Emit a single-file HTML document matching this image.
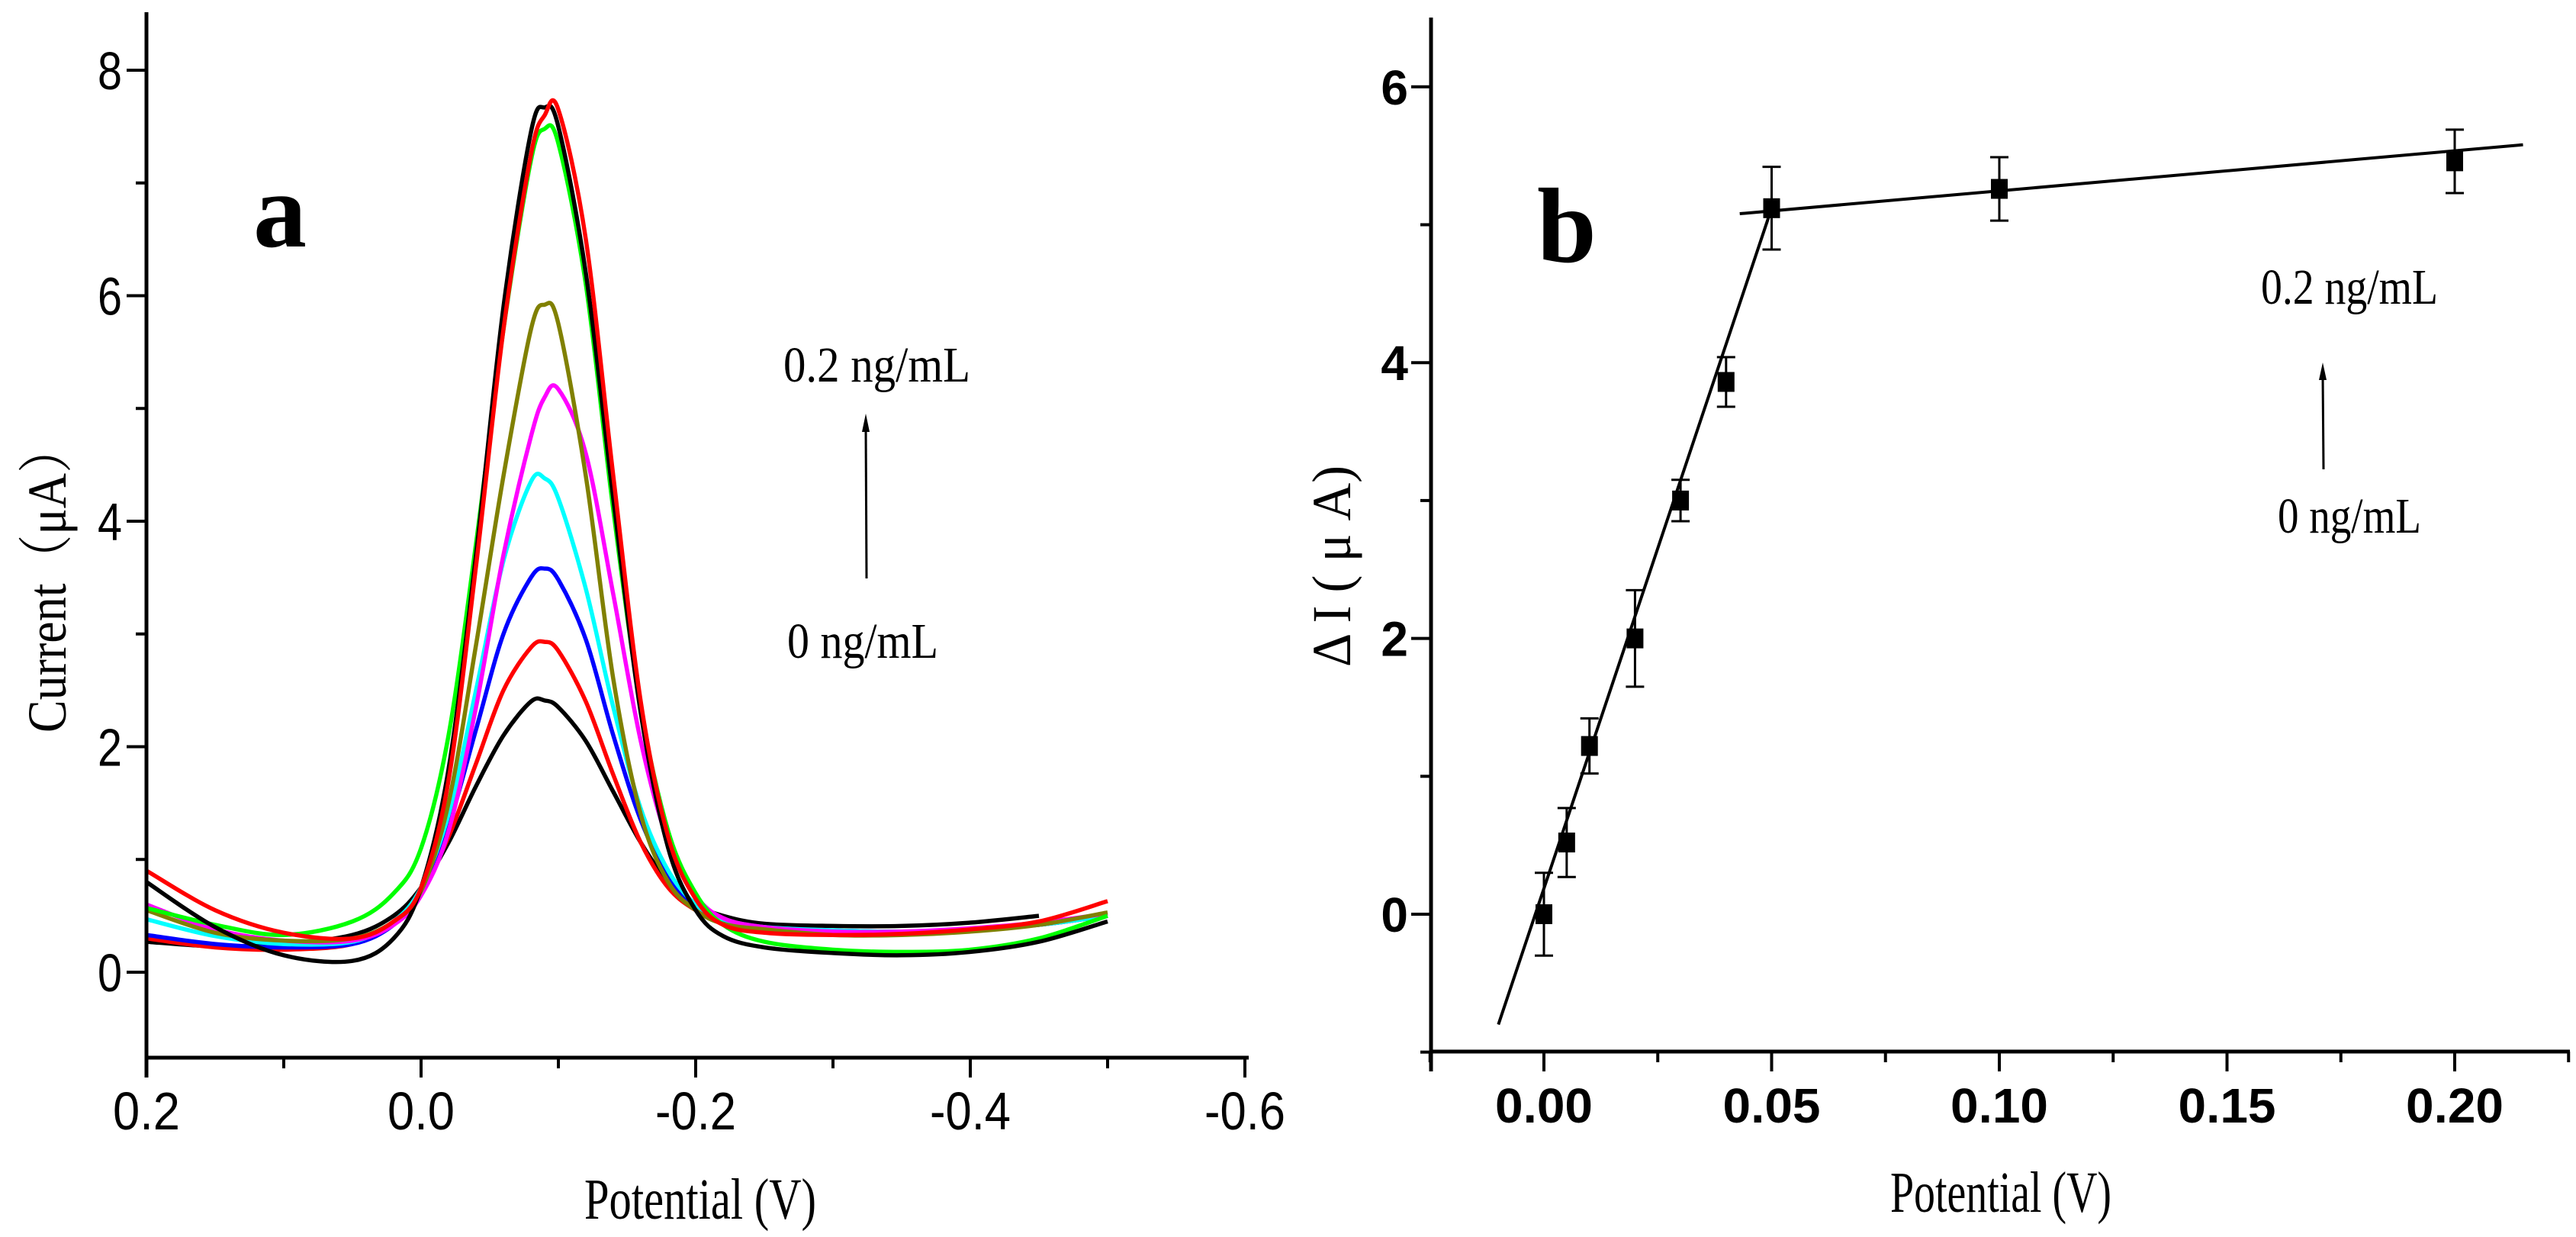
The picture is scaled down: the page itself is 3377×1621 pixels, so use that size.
<!DOCTYPE html>
<html><head><meta charset="utf-8"><style>
html,body{margin:0;padding:0;background:#fff;}
svg{display:block;}
</style></head><body>
<svg id="fig" width="3377" height="1621" viewBox="0 0 3377 1621" xmlns="http://www.w3.org/2000/svg">
<g id="panelA"></g>
<g id="panelB"></g>
</svg>
<script>
// ---------- Panel a data ----------
const potA = [0.2,0.15,0.1,0.05,0.02,0,-0.02,-0.04,-0.06,-0.08,-0.09,-0.1,-0.12,-0.14,-0.16,-0.18,-0.2,-0.22,-0.25,-0.3,-0.35,-0.4,-0.45,-0.5];
const curveColors = ['#000000','#ff0000','#0000ff','#00ffff','#ff00ff','#808000','#00ff00','#000000','#ff0000'];
const curve0 = [0.27,0.23,0.25,0.33,0.5,0.75,1.15,1.65,2.1,2.4,2.41,2.35,2.05,1.6,1.15,0.8,0.6,0.5,0.43,0.41,0.41,0.44,0.5,null];
const curve1 = [0.3,0.22,0.2,0.25,0.45,0.72,1.2,1.85,2.5,2.88,2.93,2.85,2.4,1.75,1.15,0.75,0.55,0.45,0.38,0.36,0.36,0.38,0.42,0.5];
const curve2 = [0.33,0.25,0.22,0.25,0.42,0.72,1.3,2.15,3.0,3.5,3.58,3.48,2.95,2.1,1.35,0.85,0.58,0.46,0.4,0.37,0.36,0.38,0.42,0.5];
const curve3 = [0.47,0.32,0.25,0.27,0.45,0.75,1.4,2.5,3.65,4.35,4.38,4.2,3.4,2.35,1.45,0.9,0.6,0.47,0.4,0.37,0.36,0.38,0.42,0.5];
const curve4 = [0.6,0.38,0.28,0.28,0.42,0.68,1.25,2.35,3.7,4.75,5.1,5.17,4.6,3.35,2.05,1.15,0.68,0.48,0.4,0.36,0.36,0.39,0.44,0.52];
const curve5 = [0.55,0.35,0.28,0.3,0.45,0.72,1.5,2.9,4.4,5.7,5.92,5.75,4.4,2.6,1.4,0.8,0.55,0.43,0.38,0.33,0.33,0.36,0.42,0.53];
const curve6 = [0.57,0.42,0.33,0.45,0.7,1.1,2.1,3.8,5.7,7.2,7.48,7.35,6.1,4.1,2.35,1.25,0.7,0.42,0.27,0.2,0.18,0.2,0.3,0.5];
const curve7 = [0.8,0.4,0.15,0.1,0.3,0.75,1.8,3.7,5.9,7.45,7.67,7.5,6.2,4.2,2.3,1.1,0.55,0.32,0.22,0.17,0.15,0.18,0.27,0.45];
const curve8 = [0.9,0.55,0.35,0.3,0.45,0.75,1.7,3.6,5.7,7.25,7.6,7.65,6.5,4.4,2.4,1.2,0.65,0.42,0.35,0.33,0.34,0.38,0.45,0.63];
const curvesA = [curve0,curve1,curve2,curve3,curve4,curve5,curve6,curve7,curve8];
const xTicksA = [0.2,0.0,-0.2,-0.4,-0.6];
const xTickLabelsA = ['0.2','0.0','-0.2','-0.4','-0.6'];
const yTicksA = [0,2,4,6,8];

// ---------- Panel b data ----------
const concB = [0,0.005,0.01,0.02,0.03,0.04,0.05,0.1,0.2];
const deltaI = [0,0.52,1.22,2.0,3.0,3.86,5.12,5.26,5.46];
const errB = [0.3,0.25,0.2,0.35,0.15,0.18,0.3,0.23,0.23];
const fit1X = [-0.01,0.05];
const fit1Y = [-0.8,5.12];
const fit2X = [0.043,0.215];
const fit2Y = [5.08,5.58];
const xTicksB = [0,0.05,0.1,0.15,0.2];
const xTickLabelsB = ['0.00','0.05','0.10','0.15','0.20'];
const yTicksB = [0,2,4,6];

const NS='http://www.w3.org/2000/svg';
function mk(parent,tag,attrs,text){const e=document.createElementNS(NS,tag);for(const k in attrs)e.setAttribute(k,attrs[k]);if(text!==undefined)e.textContent=text;parent.appendChild(e);return e;}

const xA = v => 552 + (0 - v) * 1800;
const yA = v => 1274 - v * 147.75;
const xB = v => 2024 + v * 5970;
const yB = v => 1198 - v * 180.7;

const gA=document.getElementById('panelA');
const sans='"Liberation Sans", Arial, sans-serif';
const serif='"Liberation Serif", "Times New Roman", serif';
function smoothPath(pts){
  let d='M'+pts[0][0].toFixed(1)+','+pts[0][1].toFixed(1);
  for(let i=0;i<pts.length-1;i++){
    const p0=pts[i-1]||pts[i],p1=pts[i],p2=pts[i+1],p3=pts[i+2]||p2;
    const c1=[p1[0]+(p2[0]-p0[0])/6,p1[1]+(p2[1]-p0[1])/6];
    const c2=[p2[0]-(p3[0]-p1[0])/6,p2[1]-(p3[1]-p1[1])/6];
    d+=' C'+c1[0].toFixed(1)+','+c1[1].toFixed(1)+' '+c2[0].toFixed(1)+','+c2[1].toFixed(1)+' '+p2[0].toFixed(1)+','+p2[1].toFixed(1);
  }
  return d;
}
curvesA.forEach((c,i)=>{
  const pts=[];c.forEach((v,j)=>{if(v!==null)pts.push([xA(potA[j]),yA(v)]);});
  const p=mk(gA,'path',{d:smoothPath(pts),fill:'none',stroke:curveColors[i],'stroke-width':5.5,'stroke-linejoin':'round'});
  
  
});
const axA=mk(gA,'g',{});


mk(axA,'line',{x1:192,y1:16,x2:192,y2:1412,stroke:'#000','stroke-width':5});
mk(axA,'line',{x1:190,y1:1386,x2:1637,y2:1386,stroke:'#000','stroke-width':5});
for(let v=-0.6;v<=0.2001;v+=0.1){const x=xA(v);const major=Math.abs(Math.round(v*10))%2===0;mk(axA,'line',{x1:x,y1:1386,x2:x,y2:1386+(major?26:14),stroke:'#000','stroke-width':4});}
for(let v=0;v<=8;v++){const y=yA(v);mk(axA,'line',{x1:192,y1:y,x2:192-(v%2===0?26:14),y2:y,stroke:'#000','stroke-width':4});}
xTicksA.forEach((v,i)=>{const lab=xTickLabelsA[i];const t=mk(axA,'text',{x:xA(v),y:1480,'font-family':sans,'font-size':70,'text-anchor':'middle',textLength:lab.length>3?106:88,lengthAdjust:'spacingAndGlyphs'},lab);
  });
yTicksA.forEach(v=>{const t=mk(axA,'text',{x:160,y:yA(v)+25,'font-family':sans,'font-size':70,'text-anchor':'end',textLength:32,lengthAdjust:'spacingAndGlyphs'},String(v));
  });
let t;
t=mk(gA,'text',{x:918,y:1597,'font-family':serif,'font-size':76,'text-anchor':'middle',textLength:304,lengthAdjust:'spacingAndGlyphs'},'Potential (V)');
 
t=mk(gA,'text',{x:0,y:0,'font-family':'"Liberation Serif","Noto Serif CJK SC",serif','font-size':72,'text-anchor':'middle',textLength:404,lengthAdjust:'spacingAndGlyphs',transform:'translate(86,758) rotate(-90)'},'Current（μA）');
 
t=mk(gA,'text',{x:332,y:323,'font-family':serif,'font-size':140,'font-weight':'bold'},'a');
 
t=mk(gA,'text',{x:1027,y:500,'font-family':serif,'font-size':66,textLength:245,lengthAdjust:'spacingAndGlyphs'},'0.2 ng/mL');
 
t=mk(gA,'text',{x:1032,y:862,'font-family':serif,'font-size':66,textLength:198,lengthAdjust:'spacingAndGlyphs'},'0 ng/mL');
 
const arA=mk(gA,'g',{});
 
mk(arA,'line',{x1:1136,y1:758,x2:1135,y2:560,stroke:'#000','stroke-width':3});
mk(arA,'polygon',{points:'1135,542 1130,566 1140,566',fill:'#000'});

const gB=document.getElementById('panelB');
const axB=mk(gB,'g',{});
 
mk(axB,'line',{x1:1876,y1:23,x2:1876,y2:1404,stroke:'#000','stroke-width':5});
mk(axB,'line',{x1:1874,y1:1378,x2:3369,y2:1378,stroke:'#000','stroke-width':5});
for(let k=-1;k<=9;k++){const v=k*0.025;const x=xB(v);const major=k%2===0;mk(axB,'line',{x1:x,y1:1378,x2:x,y2:1378+(major?26:14),stroke:'#000','stroke-width':4});}
for(let v=-1;v<=6;v++){const y=yB(v);mk(axB,'line',{x1:1876,y1:y,x2:1876-(v%2===0?26:14),y2:y,stroke:'#000','stroke-width':4});}
xTicksB.forEach((v,i)=>{const tt=mk(axB,'text',{x:xB(v),y:1471,'font-family':sans,'font-size':64,'font-weight':'bold','text-anchor':'middle',textLength:128,lengthAdjust:'spacingAndGlyphs'},xTickLabelsB[i]);
  });
yTicksB.forEach(v=>{const tt=mk(axB,'text',{x:1846,y:yB(v)+23,'font-family':sans,'font-size':64,'font-weight':'bold','text-anchor':'end'},String(v));
  });
let fl=mk(gB,'line',{x1:xB(fit1X[0]),y1:yB(fit1Y[0]),x2:xB(fit1X[1]),y2:yB(fit1Y[1]),stroke:'#000','stroke-width':4});
 
fl=mk(gB,'line',{x1:xB(fit2X[0]),y1:yB(fit2Y[0]),x2:xB(fit2X[1]),y2:yB(fit2Y[1]),stroke:'#000','stroke-width':4});
 
concB.forEach((c,i)=>{
  const x=xB(c),y=yB(deltaI[i]),yt=yB(deltaI[i]+errB[i]),yb=yB(deltaI[i]-errB[i]);
  const g=mk(gB,'g',{});
   
  mk(g,'line',{x1:x,y1:yt,x2:x,y2:yb,stroke:'#000','stroke-width':3});
  mk(g,'line',{x1:x-12,y1:yt,x2:x+12,y2:yt,stroke:'#000','stroke-width':3});
  mk(g,'line',{x1:x-12,y1:yb,x2:x+12,y2:yb,stroke:'#000','stroke-width':3});
  mk(g,'rect',{x:x-11,y:y-13,width:22,height:26,fill:'#000'});
});
t=mk(gB,'text',{x:2623,y:1588,'font-family':serif,'font-size':76,'text-anchor':'middle',textLength:290,lengthAdjust:'spacingAndGlyphs'},'Potential (V)');
 
t=mk(gB,'text',{x:0,y:0,'font-family':'"Liberation Serif","DejaVu Serif",serif','font-size':72,'text-anchor':'middle',textLength:264,lengthAdjust:'spacingAndGlyphs',transform:'translate(1770,742) rotate(-90)'},'Δ I ( μ A)');
 
t=mk(gB,'text',{x:2015,y:343,'font-family':serif,'font-size':140,'font-weight':'bold'},'b');
 
t=mk(gB,'text',{x:2964,y:398,'font-family':serif,'font-size':66,textLength:232,lengthAdjust:'spacingAndGlyphs'},'0.2 ng/mL');
 
t=mk(gB,'text',{x:2986,y:698,'font-family':serif,'font-size':66,textLength:188,lengthAdjust:'spacingAndGlyphs'},'0 ng/mL');
 
const arB=mk(gB,'g',{});
 
mk(arB,'line',{x1:3046,y1:615,x2:3045,y2:492,stroke:'#000','stroke-width':3});
mk(arB,'polygon',{points:'3045,475 3040,498 3050,498',fill:'#000'});
</script>
</body></html>
